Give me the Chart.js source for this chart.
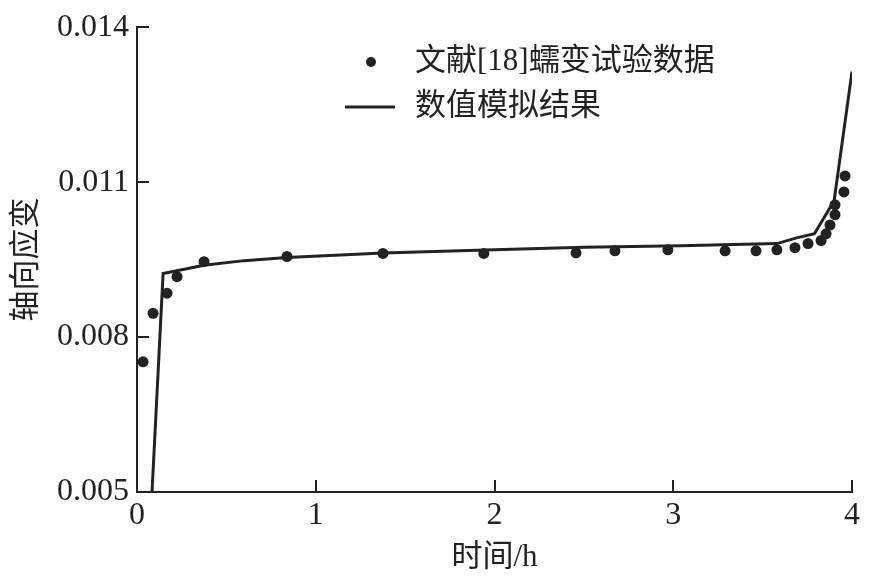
<!DOCTYPE html>
<html>
<head>
<meta charset="utf-8">
<script src="https://cdn.jsdelivr.net/npm/chart.js@4.4.0/dist/chart.umd.min.js"></script>
<style>
html,body{margin:0;padding:0;background:#fff;}
#wrap{width:872px;height:580px;}
</style>
</head>
<body>
<div id="wrap"><canvas id="c" width="872" height="580"></canvas></div>
<script>
// Data
const expTime   = [0.034, 0.09, 0.168, 0.224, 0.375, 0.839, 1.376, 1.94, 2.456, 2.674, 2.97, 3.29, 3.463, 3.58, 3.681, 3.754, 3.827, 3.855, 3.877, 3.905, 3.905, 3.955, 3.961];
const expStrain = [0.00752, 0.00846, 0.00885, 0.00917, 0.00946, 0.00956, 0.00962, 0.00962, 0.00963, 0.00967, 0.00969, 0.00967, 0.00967, 0.00969, 0.00973, 0.00981, 0.00987, 0.0100, 0.01017, 0.01037, 0.01056, 0.01081, 0.01112];
const simTime   = [0.084, 0.146, 0.375, 0.6, 0.839, 1.376, 2.0, 2.5, 3.04, 3.58, 3.69, 3.79, 3.90, 4.0];
const simStrain = [0.005, 0.00923, 0.00939, 0.00948, 0.00954, 0.00963, 0.00969, 0.00974, 0.00977, 0.00981, 0.00992, 0.0100, 0.01064, 0.01314];
const xTicks = [0, 1, 2, 3, 4];
const yTicks = [0.005, 0.008, 0.011, 0.014];
const legendLabels = ['文献[18]蠕变试验数据', '数值模拟结果'];
const xTitle = '时间/h';
const yTitle = '轴向应变';

const INK = '#222222';
const LATIN = '"Liberation Serif", "Noto Sans CJK SC", serif';

const innerTicks = {
  id: 'innerTicks',
  afterDatasetsDraw(chart) {
    const {ctx, chartArea: a, scales: {x, y}} = chart;
    ctx.save();
    ctx.strokeStyle = INK;
    ctx.lineWidth = 2;
    ctx.beginPath();
    xTicks.forEach(v => { if (v === 0) return; const px = Math.round(x.getPixelForValue(v)); ctx.moveTo(px, a.bottom); ctx.lineTo(px, a.bottom - 12); });
    yTicks.forEach(v => { if (v === yTicks[0]) return; const py = Math.round(y.getPixelForValue(v)); ctx.moveTo(a.left, py); ctx.lineTo(a.left + 12, py); });
    ctx.stroke();
    // legend
    const lx = a.left + 234, ly1 = 62, ly2 = 107;
    ctx.fillStyle = INK;
    ctx.beginPath(); ctx.arc(lx, ly1, 5, 0, Math.PI * 2); ctx.fill();
    ctx.lineWidth = 3;
    ctx.beginPath(); ctx.moveTo(lx - 26, ly2); ctx.lineTo(lx + 24, ly2); ctx.stroke();
    ctx.font = '31px ' + LATIN;
    ctx.textBaseline = 'middle';
    ctx.textAlign = 'left';
    ctx.fillText(legendLabels[0], lx + 44, ly1);
    ctx.fillText(legendLabels[1], lx + 44, ly2);
    ctx.restore();
  }
};

new Chart(document.getElementById('c'), {
  type: 'scatter',
  data: {
    datasets: [
      {
        label: legendLabels[1],
        data: simTime.map((t, i) => ({x: t, y: simStrain[i]})),
        showLine: true,
        borderColor: INK,
        borderWidth: 3,
        pointRadius: 0,
        tension: 0,
        order: 2
      },
      {
        label: legendLabels[0],
        data: expTime.map((t, i) => ({x: t, y: expStrain[i]})),
        showLine: false,
        backgroundColor: INK,
        borderColor: INK,
        pointRadius: 5.5,
        pointBorderWidth: 0,
        order: 1
      }
    ]
  },
  options: {
    responsive: false,
    animation: false,
    layout: {padding: {top: 24, right: 20, left: 0, bottom: 0}},
    plugins: {legend: {display: false}, tooltip: {enabled: false}},
    scales: {
      x: {
        type: 'linear', min: 0, max: 4,
        afterBuildTicks: s => { s.ticks = xTicks.map(v => ({value: v})); },
        afterFit: s => { s.height = 88; },
        grid: {display: false, drawTicks: false},
        border: {display: true, color: INK, width: 2},
        ticks: {color: INK, font: {family: LATIN, size: 32}, padding: 4, maxRotation: 0, callback: v => String(v)},
        title: {display: true, text: xTitle, color: INK, font: {family: LATIN, size: 31}, padding: {top: 0, bottom: 4}}
      },
      y: {
        type: 'linear', min: 0.005, max: 0.014,
        afterBuildTicks: s => { s.ticks = yTicks.map(v => ({value: v})); },
        afterFit: s => { s.width = 137; },
        grid: {display: false, drawTicks: false},
        border: {display: true, color: INK, width: 2},
        ticks: {color: INK, font: {family: LATIN, size: 32}, padding: 8, callback: v => v.toFixed(3)},
        title: {display: true, text: yTitle, color: INK, font: {family: LATIN, size: 31}, padding: {top: 8, bottom: 0}}
      }
    }
  },
  plugins: [innerTicks]
});
</script>
</body>
</html>
